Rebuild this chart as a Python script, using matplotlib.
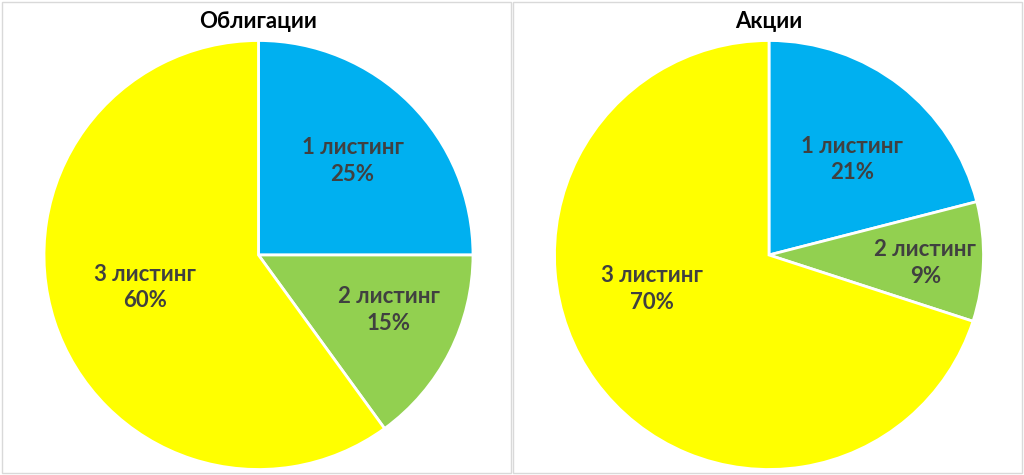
import matplotlib
matplotlib.use("Agg")
import matplotlib.pyplot as plt
import numpy as np
from matplotlib.patches import Rectangle

plt.rcParams['font.family'] = ['Lato', 'DejaVu Sans']

titles = ["Облигации", "Акции"]
categories = ["1 листинг", "2 листинг", "3 листинг"]
bonds = [25, 15, 60]
stocks = [21, 9, 70]
series = [bonds, stocks]
colors = ["#00B0F0", "#92D050", "#FFFF00"]

# label placement (radial fraction, angle degrees) per panel - styling
label_pos = [
    [(0.62, 45), (0.66, -23), (0.55, 196)],
    [(0.59, 49), (0.73, -3), (0.57, 196)],
]

W, H = 1024, 475
fig = plt.figure(figsize=(W / 100, H / 100), dpi=100)
fig.patch.set_facecolor("white")

# panel borders
for x0, x1 in [(2, 511), (513, 1022)]:
    fig.patches.append(Rectangle((x0 / W, 2 / H), (x1 - x0) / W, (H - 4) / H,
                                 transform=fig.transFigure, fill=False,
                                 edgecolor="#d9d9d9", linewidth=1.0))

centers = [(258.5, 255), (769, 255)]
R = 214.5
for i, (cx, cy) in enumerate(centers):
    ax = fig.add_axes([(cx - R) / W, (H - cy - R) / H, 2 * R / W, 2 * R / H])
    vals = series[i]
    wedges, _ = ax.pie(vals, colors=colors, startangle=90, counterclock=False,
                       wedgeprops=dict(edgecolor="white", linewidth=2))
    for j, (cat, v) in enumerate(zip(categories, vals)):
        r, a = label_pos[i][j]
        ax.text(r * np.cos(np.radians(a)), r * np.sin(np.radians(a)),
                f"{cat}\n{v}%", ha="center", va="center", fontsize=16,
                fontweight="bold", color="#404040", linespacing=1.35)
    ax.set_xlim(-1, 1)
    ax.set_ylim(-1, 1)
    ax.set_aspect("equal")
    ax.axis("off")
    fig.text(cx / W, 1 - 22 / H, titles[i], ha="center", va="center",
             fontsize=16, fontweight="bold", color="black")

fig.savefig("out.png", dpi=100)
